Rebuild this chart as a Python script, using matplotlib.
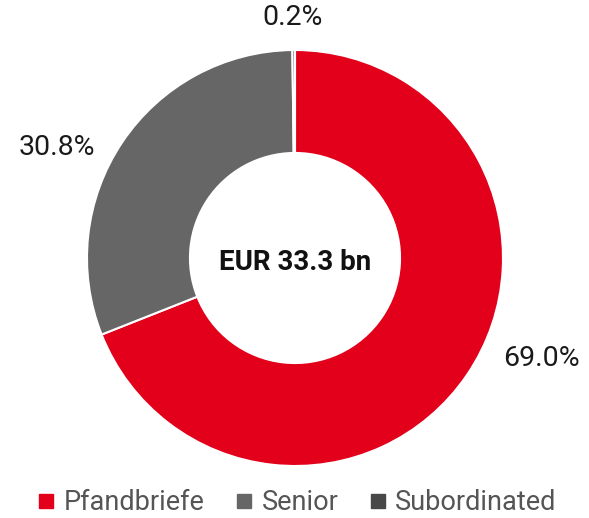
import matplotlib
matplotlib.use("Agg")
import matplotlib.pyplot as plt
from matplotlib.lines import Line2D

## Données
categories = ["Pfandbriefe", "Senior", "Subordinated"]
parts = [69.0, 30.8, 0.2]
etiquettes = ["69.0%", "30.8%", "0.2%"]
couleurs = ["#E2001A", "#666666", "#484848"]
total = "EUR 33.3 bn"

plt.rcParams['font.family'] = ['Roboto', 'DejaVu Sans']

fig = plt.figure(figsize=(5.89, 5.18), dpi=100)
# axe carré placé au pixel près (centre 295,258 ; rayon 208 px)
ax = fig.add_axes([87/589, 52/518, 416/589, 416/518])

ax.pie(parts, colors=couleurs, startangle=90, counterclock=False, radius=1.0,
       wedgeprops=dict(width=0.495, edgecolor='white', linewidth=1.5))
ax.set_xlim(-1, 1)
ax.set_ylim(-1, 1)
ax.set_aspect('equal')
ax.axis('off')

# étiquettes de pourcentage (positions)
pos = [(1.183, -0.481), (-1.144, 0.529), (-0.01, 1.154)]
for (x, y), t in zip(pos, etiquettes):
    ax.text(x, y, t, ha='center', va='center', fontsize=20.5, color='#1a1a1a', clip_on=False)

ax.text(0, -0.02, total, ha='center', va='center', fontsize=20, fontweight='bold', color='#111111')

## Légende
poignees = [Line2D([0], [0], marker='s', linestyle='none', markersize=9.5,
                   markerfacecolor=c, markeredgecolor=c) for c in couleurs]
leg = fig.legend(poignees, categories, loc='center', bbox_to_anchor=(0.506, 0.029),
                 ncol=3, frameon=False, fontsize=19.5, handlelength=0.5,
                 handletextpad=0.4, columnspacing=1.2, borderaxespad=0)
for t in leg.get_texts():
    t.set_color('#555555')

fig.savefig("out.png", dpi=100)
